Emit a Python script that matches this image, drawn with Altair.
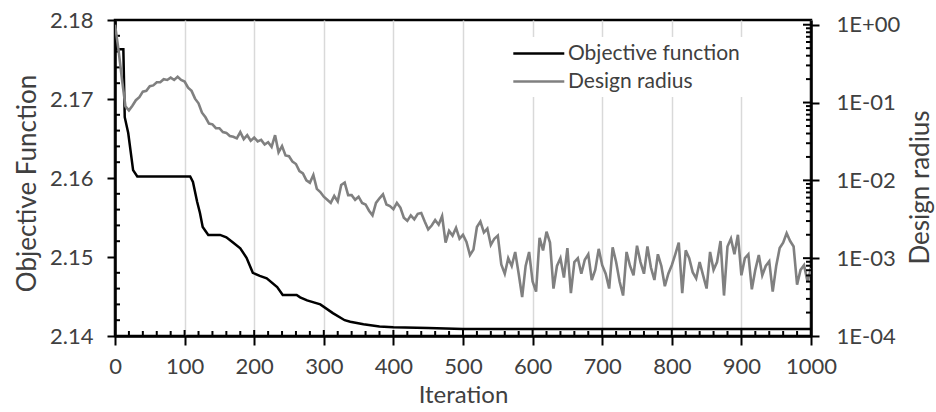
import altair as alt
import pandas as pd

FONT = "Lato"

# ---- Objective function ----
obj_iter = [0, 2, 12, 14, 19, 26, 32, 108, 112, 118, 122, 126, 134, 151, 160, 170, 180,
            189, 198, 208, 218, 233, 241, 261, 266, 276, 295, 313, 330, 338, 357, 380,
            400, 450, 500, 600, 700, 800, 900, 1000]
obj_vals = [2.1800, 2.1763, 2.1763, 2.1677, 2.1657, 2.1610, 2.1602, 2.1602, 2.1595, 2.1570,
            2.1556, 2.1538, 2.1528, 2.1528, 2.1525, 2.1518, 2.1511, 2.1499, 2.1480, 2.1476,
            2.1473, 2.1462, 2.1452, 2.1452, 2.1449, 2.1445, 2.1440, 2.1429, 2.1420, 2.1418,
            2.1415, 2.1412, 2.1411, 2.1410, 2.1409, 2.1409, 2.1409, 2.1409, 2.1409, 2.1409]

# ---- Design radius, log10 of value, every 5 iterations ----
rad_iter = list(range(0, 1001, 5))
rad_log10 = [
    0.00, -0.32, -0.70, -1.05, -1.10, -1.04, -0.97, -0.93, -0.86, -0.85,
    -0.79, -0.78, -0.74, -0.74, -0.70, -0.71, -0.68, -0.71, -0.67, -0.71,
    -0.73, -0.81, -0.85, -0.95, -1.01, -1.13, -1.19, -1.27, -1.28, -1.33,
    -1.33, -1.38, -1.39, -1.43, -1.44, -1.46, -1.38, -1.47, -1.42, -1.49,
    -1.45, -1.50, -1.48, -1.54, -1.51, -1.57, -1.42, -1.64, -1.56, -1.68,
    -1.69, -1.76, -1.79, -1.88, -1.91, -2.00, -2.03, -1.93, -2.11, -2.15,
    -2.21, -2.25, -2.29, -2.20, -2.27, -2.06, -2.03, -2.19, -2.19, -2.25,
    -2.21, -2.29, -2.31, -2.39, -2.45, -2.29, -2.23, -2.18, -2.31, -2.33,
    -2.37, -2.29, -2.35, -2.48, -2.52, -2.45, -2.50, -2.43, -2.42, -2.53,
    -2.63, -2.58, -2.51, -2.57, -2.46, -2.80, -2.65, -2.71, -2.61, -2.75,
    -2.70, -2.79, -2.96, -2.89, -2.60, -2.53, -2.67, -2.62, -2.83, -2.75,
    -2.71, -3.08, -3.20, -3.00, -3.10, -2.92, -3.20, -3.50, -3.10, -2.92,
    -3.30, -3.43, -2.74, -2.90, -2.66, -2.80, -3.39, -3.10, -3.00, -3.25,
    -2.87, -3.45, -3.05, -3.00, -3.20, -3.02, -2.95, -3.28, -3.15, -2.88,
    -3.09, -3.20, -3.39, -2.86, -3.05, -3.30, -3.48, -2.92, -3.10, -3.22,
    -2.84, -3.05, -3.20, -2.85, -3.12, -3.28, -2.95, -3.10, -3.36, -3.20,
    -3.09, -2.95, -2.80, -3.45, -2.90, -3.00, -3.18, -3.26, -3.05, -3.22,
    -3.39, -2.92, -3.15, -3.05, -2.78, -3.48, -2.85, -2.75, -2.95, -2.70,
    -3.22, -3.00, -2.95, -3.40, -3.15, -2.96, -3.22, -3.10, -3.04, -3.43,
    -3.10, -2.87, -2.80, -2.68, -2.78, -2.85, -3.34, -3.15, -3.09, -3.30,
    -3.13,
]

# ---- axis tick values ----
x_major = [0, 100, 200, 300, 400, 500, 600, 700, 800, 900, 1000]
x_minor = [v for v in range(0, 1001, 20) if v % 100 != 0]
left_major = [2.14, 2.15, 2.16, 2.17, 2.18]
left_minor = [2.142, 2.144, 2.146, 2.148, 2.152, 2.154, 2.156, 2.158,
              2.162, 2.164, 2.166, 2.168, 2.172, 2.174, 2.176, 2.178]
right_major = [1e-4, 1e-3, 1e-2, 1e-1, 1.0]
right_minor = [m * d for d in [1e-4, 1e-3, 1e-2, 1e-1] for m in range(2, 10)]

series_names = ["Objective function", "Design radius"]
series_colors = ["#000000", "#808080"]

W, H = 696, 316
TXT = "#404040"

df_obj = pd.DataFrame({"Iteration": obj_iter, "Objective": obj_vals, "Series": series_names[0]})
df_rad = pd.DataFrame({"Iteration": rad_iter, "log10r": rad_log10, "Series": series_names[1]})

xdom = alt.Scale(domain=[0, 1000], nice=False, zero=False)
ldom = alt.Scale(domain=[2.14, 2.18], nice=False, zero=False)
rdom = alt.Scale(type="log", domain=[1e-4, 1.15], nice=False)

x_axis = alt.Axis(values=x_major, format="d", title="Iteration", grid=True, gridColor="#d9d9d9",
                  gridWidth=1.5, tickSize=9, labelPadding=11, titlePadding=6, titleFontSize=24,
                  labelOverlap=False, labelFlush=False)
l_axis = alt.Axis(values=left_major, format=".2f", title="Objective Function", orient="left",
                  grid=False, tickSize=8, labelPadding=14, labelOverlap=False,
                  titleX=-88, titleY=163, titleBaseline="middle", titleAlign="center", titleAngle=270)
r_axis = alt.Axis(values=right_major, orient="right", title="Design radius", titleAngle=270,
                  labelExpr="'1E' + (round(log(datum.value)/LN10) >= 0 ? '+' : '-') + (abs(round(log(datum.value)/LN10)) < 10 ? '0' : '') + abs(round(log(datum.value)/LN10))",
                  grid=False, tickSize=8, labelPadding=17, labelOverlap=False,
                  titleX=109, titleY=167, titleBaseline="middle", titleAlign="center")

color = alt.Color(
    "Series:N",
    scale=alt.Scale(domain=series_names, range=series_colors),
    legend=alt.Legend(
        title=None, orient="none", legendX=392, legendY=17,
        symbolType="M-1,0L4,0", symbolSize=416, symbolStrokeWidth=2.5,
        labelFontSize=21, labelFont=FONT, labelColor=TXT, labelOffset=33, labelLimit=400,
        rowPadding=6, fillColor="white", padding=5,
    ),
)

obj_line = alt.Chart(df_obj).mark_line(strokeWidth=2.5, clip=True).encode(
    x=alt.X("Iteration:Q", scale=xdom, axis=x_axis),
    y=alt.Y("Objective:Q", scale=ldom, axis=l_axis),
    color=color,
)

x_minor_rules = alt.Chart(pd.DataFrame({"Iteration": x_minor})).mark_rule(color="black", strokeWidth=2).encode(
    x=alt.X("Iteration:Q", scale=xdom, axis=x_axis), y=alt.value(H), y2=alt.value(H - 5))
x_major_rules = alt.Chart(pd.DataFrame({"Iteration": x_major})).mark_rule(color="black", strokeWidth=2).encode(
    x=alt.X("Iteration:Q", scale=xdom, axis=x_axis), y=alt.value(H), y2=alt.value(H - 6))
left_minor_rules = alt.Chart(pd.DataFrame({"Objective": left_minor})).mark_rule(color="black", strokeWidth=2).encode(
    y=alt.Y("Objective:Q", scale=ldom, axis=l_axis), x=alt.value(0), x2=alt.value(5))

left_group = alt.layer(obj_line, left_minor_rules, x_minor_rules, x_major_rules)

rad_line = alt.Chart(df_rad).transform_calculate(
    Radius="pow(10, datum.log10r)"
).mark_line(strokeWidth=2.6, clip=True).encode(
    x=alt.X("Iteration:Q", scale=xdom, axis=x_axis),
    y=alt.Y("Radius:Q", scale=rdom, axis=r_axis),
    color=color,
)
right_minor_rules = alt.Chart(pd.DataFrame({"Radius": right_minor})).mark_rule(color="black", strokeWidth=2).encode(
    y=alt.Y("Radius:Q", scale=rdom, axis=r_axis), x=alt.value(W - 5), x2=alt.value(W))
right_major_rules = alt.Chart(pd.DataFrame({"Radius": right_major})).mark_rule(color="black", strokeWidth=2).encode(
    y=alt.Y("Radius:Q", scale=rdom, axis=r_axis), x=alt.value(W - 8), x2=alt.value(W))

right_group = alt.layer(rad_line, right_minor_rules, right_major_rules)

chart = alt.layer(left_group, right_group).resolve_scale(y="independent").properties(
    width=W, height=H,
    autosize=alt.AutoSizeParams(type="none"),
    padding={"left": 115, "top": 20, "right": 125, "bottom": 76},
    background="white",
).configure_view(
    stroke="black", strokeWidth=2.5
).configure_axis(
    domainColor="black", domainWidth=2.5, tickColor="black", tickWidth=2,
    labelFont=FONT, labelFontSize=22, labelColor=TXT,
    titleFont=FONT, titleFontSize=26, titleColor=TXT, titleFontWeight="normal",
)

chart.save("out.html", embed_options={"renderer": "svg", "actions": False})
